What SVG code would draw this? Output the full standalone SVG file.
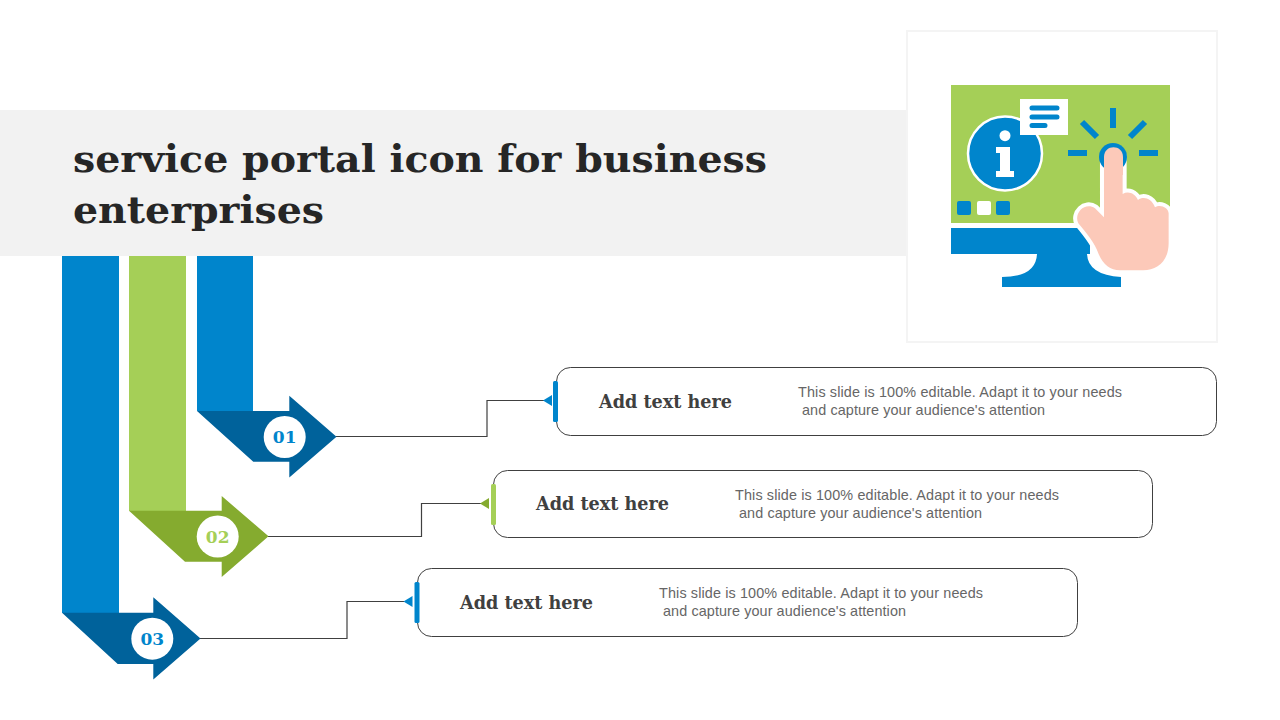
<svg xmlns="http://www.w3.org/2000/svg" width="1280" height="720" viewBox="0 0 1280 720">
<style>
.title{font-family:"DejaVu Serif",serif;font-weight:700;font-size:38px;fill:#262626}
.head{font-family:"DejaVu Serif",serif;font-weight:700;font-size:18px;fill:#404040}
.body{font-family:"Liberation Sans",Arial,sans-serif;font-size:14.4px;fill:#666}
.num{font-family:"DejaVu Serif",serif;font-weight:700;font-size:17px;text-anchor:middle}
.card{fill:#fff;stroke:#404040;stroke-width:1}
.wire{fill:none;stroke:#404040;stroke-width:1.2}
.blue{fill:#0085cc}.dblue{fill:#00629b}.green{fill:#a5cf57}.dgreen{fill:#85ab2f}.white{fill:#fff}
.ray{stroke:#0085cc;stroke-width:6;fill:none}
.ln{stroke:#0085cc;stroke-width:5;stroke-linecap:round;fill:none}
</style>
<rect width="1280" height="720" fill="#fff"/>
<rect id="band" x="0" y="110" width="907" height="146" fill="#f2f2f2"/>
<g id="title">
<text class="title" x="73" y="172" textLength="694" lengthAdjust="spacingAndGlyphs">service portal icon for business</text>
<text class="title" x="73" y="223" textLength="251" lengthAdjust="spacingAndGlyphs">enterprises</text>
</g>
<g id="icon-card">
<rect x="907" y="31" width="310" height="311" fill="#fff" stroke="#f4f4f4" stroke-width="2"/>
<rect class="green" x="951" y="85" width="219" height="138"/>
<path class="blue" d="M951 228H1090V254H1087Q1088 275 1121 277V287H1002V277Q1036 277 1037 254H951Z"/>
<circle cx="1005" cy="153.500" r="37" class="blue" stroke="#fff" stroke-width="2.500"/>
<circle cx="1005" cy="135.700" r="5.500" class="white"/>
<path class="white" d="M996 147H1010V171H1014V177H996V171H1000V153H996Z"/>
<rect class="white" x="1020" y="99" width="48" height="36"/>
<path class="ln" d="M1032 108H1057M1032 117H1057M1032 125.500H1045"/>
<rect class="blue" x="957" y="201" width="14" height="14" rx="2"/>
<rect class="white" x="977" y="201" width="14" height="14" rx="2"/>
<rect class="blue" x="996" y="201" width="14" height="14" rx="2"/>
<path class="ray" d="M1113 108V128M1082 122L1097 137M1145 122L1130 137M1068 153H1087M1139 153H1158"/>
<path transform="translate(900 20) scale(.3333)" fill="#fcc9b9" stroke="#fff" stroke-width="24" stroke-linejoin="round" paint-order="stroke" d="M612 412C612 375 668 375 668 412V522C685 512 705 520 714 540C730 528 755 535 765 562C780 552 805 562 806 580V670C806 725 770 751 730 751H660C630 751 610 735 595 700C585 670 560 640 535 610C520 580 555 545 585 565L612 592Z"/>
<circle class="blue" cx="1113" cy="157" r="14"/>
<path fill="#fcc9b9" d="M1104 157C1104 144 1123 144 1123 157V175H1104Z"/>
</g>
<g id="connectors">
<path class="wire" d="M336 436.500H487V400.500H544"/>
<path class="wire" d="M268 536.500H421.500V503.500H481"/>
<path class="wire" d="M200 638.500H347V601.500H404"/>
</g>
<g id="arrow-1">
<rect class="blue" x="197" y="256" width="56" height="155"/>
<path class="dblue" d="M197 411H289.300V395.700L336.500 436.700L289.300 477.500V461.700H253.300Z"/>
<circle class="white" cx="284.700" cy="437" r="21"/>
<text class="num" x="284.700" y="443" fill="#0085cc">01</text>
</g>
<g id="arrow-2">
<rect class="green" x="129" y="256" width="57" height="255"/>
<path class="dgreen" d="M129 510.700H221.700V496L268.500 536.300L221.700 577V561.700H185Z"/>
<circle class="white" cx="217.700" cy="536.500" r="21"/>
<text class="num" x="217.700" y="542.500" fill="#a5cf57">02</text>
</g>
<g id="arrow-3">
<rect class="blue" x="62" y="256" width="57" height="357"/>
<path class="dblue" d="M62 612.700H153.300V597.300L200.500 638.500L153.300 679.500V664H117.700Z"/>
<circle class="white" cx="152.300" cy="638.700" r="21"/>
<text class="num" x="152.300" y="644.700" fill="#0085cc">03</text>
</g>
<g id="node-1">
<rect class="card" x="556.500" y="367.500" width="660" height="68" rx="14"/>
<rect class="blue" x="553" y="381" width="5" height="41" rx="1.500"/>
<path class="blue" d="M552 395V406L543 400.500Z"/>
<text class="head" x="599" y="408" textLength="133" lengthAdjust="spacingAndGlyphs">Add text here</text>
<text class="body" x="798" y="397" textLength="324">This slide is 100% editable. Adapt it to your needs</text>
<text class="body" x="802" y="415" textLength="243">and capture your audience's attention</text>
</g>
<g id="node-2">
<rect class="card" x="493.500" y="470.500" width="659" height="67" rx="14"/>
<rect class="green" x="491" y="484" width="5" height="41" rx="1.500"/>
<path class="dgreen" d="M489 498V509L480 503.500Z"/>
<text class="head" x="536" y="510" textLength="133" lengthAdjust="spacingAndGlyphs">Add text here</text>
<text class="body" x="735" y="500" textLength="324">This slide is 100% editable. Adapt it to your needs</text>
<text class="body" x="739" y="518" textLength="243">and capture your audience's attention</text>
</g>
<g id="node-3">
<rect class="card" x="417.500" y="568.500" width="660" height="68" rx="14"/>
<rect class="blue" x="414.500" y="582" width="5" height="41" rx="1.500"/>
<path class="blue" d="M412.500 596V607L403.500 601.500Z"/>
<text class="head" x="460" y="609" textLength="133" lengthAdjust="spacingAndGlyphs">Add text here</text>
<text class="body" x="659" y="598" textLength="324">This slide is 100% editable. Adapt it to your needs</text>
<text class="body" x="663" y="616" textLength="243">and capture your audience's attention</text>
</g>
</svg>
